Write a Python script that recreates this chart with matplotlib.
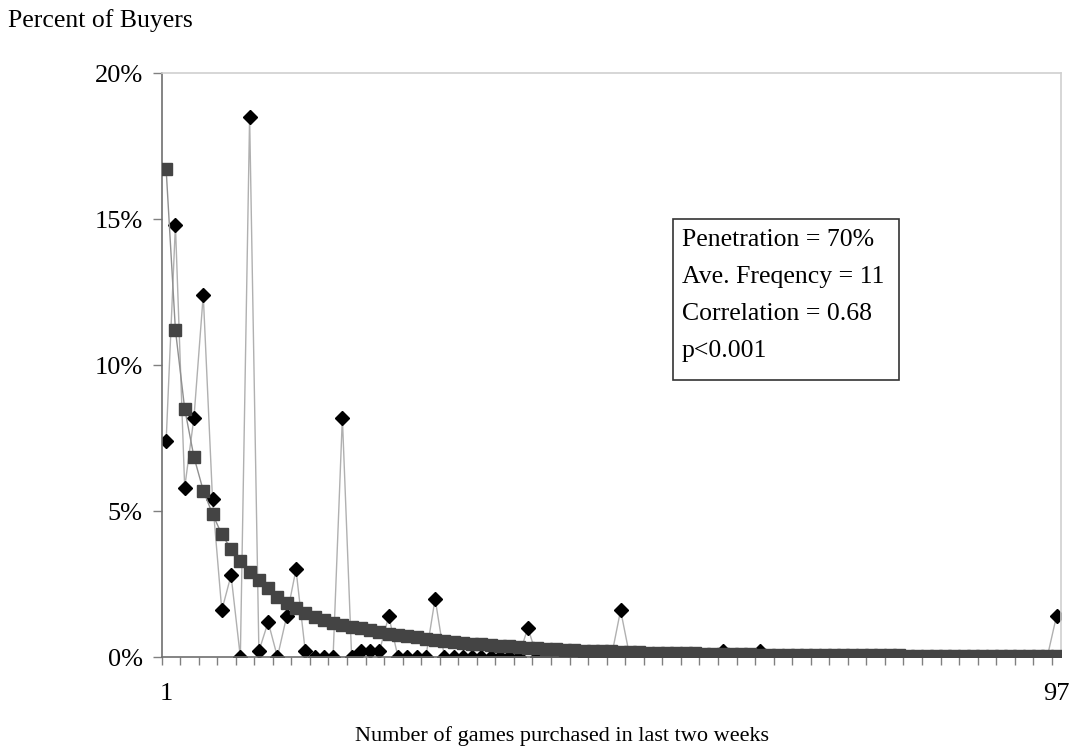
import matplotlib
matplotlib.use("Agg")
import matplotlib.pyplot as plt
from matplotlib.patches import Rectangle
import numpy as np

plt.rcParams['font.family'] = ['Liberation Serif', 'DejaVu Serif']

# purchase frequency 1..97
Games = list(range(1, 98))

# observed share of buyers (%)
Observed = [7.4, 14.8, 5.8, 8.2, 12.4, 5.4, 1.6, 2.8, 0.0, 18.5,
            0.2, 1.2, 0.0, 1.4, 3.0, 0.2, 0.0, 0.0, 0.0, 8.2,
            0.0, 0.2, 0.2, 0.2, 1.4, 0.0, 0.0, 0.0, 0.0, 2.0,
            0.0, 0.0, 0.0, 0.0, 0.0, 0.0, 0.0, 0.0, 0.0, 1.0,
            0.0, 0.0, 0.0, 0.0, 0.0, 0.0, 0.0, 0.0, 0.0, 1.6,
            0.0, 0.0, 0.0, 0.0, 0.0, 0.0, 0.0, 0.0, 0.0, 0.0,
            0.2, 0.0, 0.0, 0.0, 0.2, 0.0, 0.0, 0.0, 0.0, 0.0,
            0.0, 0.0, 0.0, 0.0, 0.0, 0.0, 0.0, 0.0, 0.0, 0.0,
            0.0, 0.0, 0.0, 0.0, 0.0, 0.0, 0.0, 0.0, 0.0, 0.0,
            0.0, 0.0, 0.0, 0.0, 0.0, 0.0, 1.4]

# fitted share of buyers (%)
Fitted = [16.7, 11.2, 8.5, 6.85, 5.7, 4.9, 4.2, 3.7, 3.3, 2.9,
          2.65, 2.35, 2.05, 1.85, 1.68, 1.5, 1.37, 1.27, 1.16, 1.1,
          1.04, 0.98, 0.92, 0.86, 0.8, 0.75, 0.71, 0.67, 0.63, 0.59,
          0.55, 0.52, 0.49, 0.46, 0.43, 0.40, 0.38, 0.36, 0.34, 0.32,
          0.30, 0.28, 0.26, 0.25, 0.24, 0.22, 0.21, 0.20, 0.19, 0.18,
          0.17, 0.16, 0.15, 0.14, 0.14, 0.13, 0.12, 0.12, 0.11, 0.11,
          0.10, 0.10, 0.09, 0.09, 0.08, 0.08, 0.08, 0.07, 0.07, 0.07,
          0.06, 0.06, 0.06, 0.06, 0.06, 0.06, 0.06, 0.06, 0.06, 0.06,
          0.05, 0.05, 0.05, 0.05, 0.05, 0.05, 0.05, 0.05, 0.05, 0.05,
          0.04, 0.04, 0.04, 0.04, 0.04, 0.04, 0.04]

YTicks = [0, 5, 10, 15, 20]
YTickLabels = ['0%', '5%', '10%', '15%', '20%']
StatsLines = ["Penetration = 70%", "Ave. Freqency = 11", "Correlation = 0.68", "p<0.001"]

Fig = plt.figure(figsize=(10.71, 7.46), dpi=100)
Ax = Fig.add_axes([0.1508, 0.1193, 0.84, 0.7828])

Ax.plot(Games, Observed, color='#b0b0b0', linewidth=1.0, marker='D', markersize=7,
        markerfacecolor='black', markeredgecolor='black', zorder=2)
Ax.plot(Games, Fitted, color='#909090', linewidth=1.0, marker='s', markersize=8,
        markerfacecolor='#444444', markeredgecolor='#444444', zorder=3)

Ax.set_xlim(0.5, 97.5)
Ax.set_ylim(0, 20)
Ax.set_yticks(YTicks)
Ax.set_yticklabels(YTickLabels, fontsize=19)
Ax.set_xticks([1, 97])
Ax.set_xticklabels(['1', '97'], fontsize=19)
Ax.set_xticks(np.arange(0.5, 98, 2), minor=True)
Ax.tick_params(axis='x', which='major', length=0, pad=19)
Ax.tick_params(axis='x', which='minor', length=6, color='#808080', width=1)
Ax.tick_params(axis='y', length=6.5, color='#808080', width=1, pad=7)

for Side in ['left', 'bottom']:
    Ax.spines[Side].set_color('#707070')
    Ax.spines[Side].set_linewidth(1.2)
for Side in ['top', 'right']:
    Ax.spines[Side].set_color('#d0d0d0')
    Ax.spines[Side].set_linewidth(1.2)

Ax.set_xlabel("Number of games purchased in last two weeks", fontsize=16)
Ax.xaxis.set_label_coords(0.445, -0.118)
Fig.text(0.0075, 0.9638, "Percent of Buyers", fontsize=18.5, ha='left', va='baseline')

# stats box
Fig.patches.append(Rectangle((0.6283, 0.4906), 0.2110, 0.2158, transform=Fig.transFigure,
                             facecolor='white', edgecolor='#333333', linewidth=1.2, zorder=5))
for i, Line in enumerate(StatsLines):
    Fig.text(0.6365, 1 - (245.7 + i * 37.0) / 746, Line, fontsize=18.5, ha='left',
             va='baseline', zorder=6)

Fig.savefig('out.png', dpi=100)
